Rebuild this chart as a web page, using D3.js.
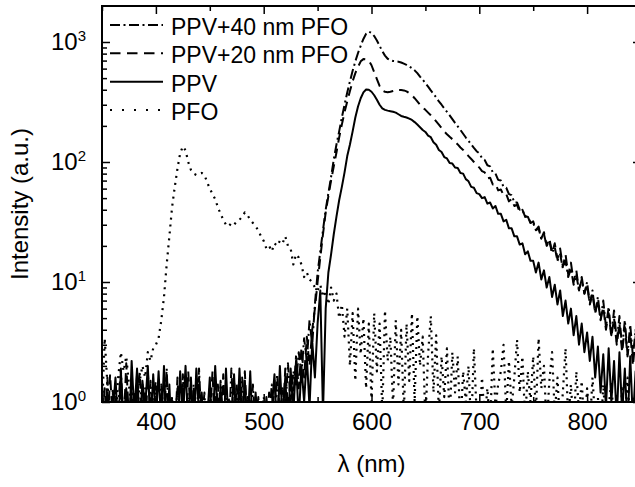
<!DOCTYPE html>
<html>
<head>
<meta charset="utf-8">
<script src="https://cdn.jsdelivr.net/npm/d3@7"></script>
<style>
  body { margin: 0; background: #fff; }
  svg { display: block; font-family: "Liberation Sans", Arial, sans-serif; }
</style>
</head>
<body>
<div id="chart"></div>
<script>
// wavelength grid (nm), one value every 2.5 nm from 350 to 850
const wavelengths = d3.range(350, 850.1, 2.5);

// PPV (solid)
const ppv = [
  1.4, 0.6, 1.2, 0.5, 0.8, 1.6, 0.6, 1.8, 0.7, 1.3, 0.5, 2.2, 0.8, 1.9, 0.6, 1.5, 0.9, 2.0, 0.6, 1.7,
  0.7, 1.8, 0.6, 2.0, 0.5, 1.4, 0.4, 0.9, 0.5, 1.8, 0.7, 2.0, 0.6, 1.6, 0.5, 1.9, 0.8, 1.2, 0.5, 0.7,
  1.6, 0.5, 2.0, 0.7, 1.3, 0.4, 1.9, 0.6, 0.8, 1.7, 0.5, 1.9, 0.7, 1.5, 0.6, 1.8, 0.5, 1.2, 0.6, 0.8,
  0.5, 1.1, 0.6, 0.9, 1.7, 0.5, 2.0, 0.7, 1.6, 0.6, 1.9, 0.8, 2.2, 0.7, 2.0, 1.0, 2.4, 0.9, 3.2, 1.6,
  4.5, 8.5, 0.8, 6, 12, 17, 25, 35, 48, 62, 82, 112, 140, 180, 235, 290, 340, 380, 402, 400,
  385, 360, 330, 300, 280, 272, 268, 265, 262, 258, 250, 242, 238, 235, 230, 224, 215, 205, 195, 185,
  178, 166, 161, 146, 139, 126, 121, 110, 107, 98, 97, 90, 89, 81, 80, 72, 69, 62, 61, 55,
  54, 50, 51, 45, 46, 41, 43, 37, 37, 32, 33, 28, 28, 24, 24, 20.5, 21, 17, 18, 15,
  15, 12, 14.5, 10.5, 12.5, 9, 11, 7.5, 9.5, 6.5, 8.5, 5.2, 7, 4.5, 6, 3.6, 5.2, 3.0, 4.5, 2.6,
  3.8, 2.2, 3.5, 1.6, 2.9, 1.2, 2.5, 0.9, 2.8, 1.0, 2.2, 0.7, 2.6, 0.8, 1.9, 0.6, 2.4, 0.7, 1.8, 0.8,
  1.5
];

// PPV+20 nm PFO (dashed)
const ppv20 = [
  0.6, 1.3, 0.5, 1.7, 0.7, 1.1, 0.5, 1.5, 0.6, 2.1, 0.7, 1.2, 0.5, 1.7, 0.6, 1.4, 0.5, 1.8, 0.7, 1.1,
  1.5, 0.6, 1.2, 0.5, 1.7, 0.6, 0.8, 0.5, 1.6, 0.6, 1.4, 0.5, 1.8, 0.7, 1.2, 0.6, 1.6, 0.5, 1.0, 0.6,
  0.7, 1.8, 0.5, 1.4, 0.6, 1.7, 0.5, 1.1, 0.6, 1.5, 0.7, 1.2, 0.5, 1.8, 0.6, 1.3, 0.5, 0.9, 0.6, 0.5,
  0.6, 0.5, 1.2, 0.6, 1.5, 0.8, 1.3, 0.6, 1.9, 0.9, 1.5, 1.1, 2.4, 1.3, 2.8, 1.6, 3.5, 2.0, 4.0, 6.0,
  10, 16, 25, 38, 52, 70, 92, 120, 160, 205, 260, 320, 390, 470, 550, 620, 690, 720, 715, 700,
  640, 560, 490, 430, 395, 385, 382, 385, 390, 395, 398, 398, 395, 388, 375, 360, 340, 320, 300, 285,
  272, 258, 245, 232, 218, 205, 192, 180, 170, 162, 155, 147, 140, 132, 126, 118, 112, 106, 100, 94,
  90, 84, 82, 73, 74, 65, 66, 58, 59, 53, 54, 47, 49, 43, 44, 38, 40, 35, 36, 31,
  32, 27, 29, 23, 26, 20, 23, 17.5, 21, 15.5, 19, 13.5, 17, 11.5, 14.5, 10, 12.5, 8.5, 11, 8,
  9.5, 6.5, 8, 5.5, 7, 4.8, 6.2, 4, 5.5, 3.5, 5, 3, 4.5, 2.6, 4.2, 2.4, 3.8, 2, 3.5, 2.2,
  3
];

// PPV+40 nm PFO (dash-dot)
const ppv40 = [
  1.0, 0.5, 1.6, 0.6, 1.3, 0.5, 0.9, 1.9, 0.6, 1.2, 0.5, 1.6, 0.6, 1.1, 1.8, 0.6, 1.3, 0.5, 1.5, 0.6,
  1.2, 0.5, 1.4, 0.7, 1.9, 0.5, 1.1, 0.6, 1.3, 0.5, 1.7, 0.6, 1.1, 0.5, 1.4, 0.6, 1.9, 0.6, 1.2, 0.5,
  1.3, 0.6, 1.1, 0.5, 1.5, 0.7, 1.3, 0.5, 1.9, 0.6, 1.4, 0.5, 1.6, 0.6, 1.1, 0.5, 1.4, 0.6, 1.1, 0.5,
  1.1, 0.6, 0.7, 1.4, 0.6, 1.7, 0.7, 1.3, 0.8, 2.1, 1.0, 1.8, 1.4, 2.6, 1.7, 3.4, 2.2, 4.8, 3.0, 6.5,
  12, 18, 27, 40, 55, 75, 105, 140, 180, 235, 300, 380, 470, 575, 690, 810, 930, 1060, 1170, 1220,
  1190, 1120, 1030, 930, 840, 770, 725, 705, 695, 690, 685, 675, 660, 645, 625, 605, 580, 550, 515, 485,
  455, 425, 395, 370, 345, 320, 300, 280, 262, 245, 228, 212, 198, 185, 172, 160, 150, 140, 131, 123,
  118, 108, 104, 94, 92, 82, 80, 71, 70, 62, 61, 54, 53, 46, 46, 40, 40, 35, 35, 31,
  31, 27, 28, 23, 25, 20, 22, 17.5, 19.5, 15, 17, 13, 15, 11, 13, 9.5, 11.5, 8.5, 10.5, 8,
  10, 6.5, 8.5, 5.5, 7.5, 4.8, 7, 4.2, 6.2, 3.6, 5.8, 3.2, 5.2, 2.8, 4.8, 2.5, 4.4, 2.4, 4.0, 2.2,
  3.5
];

// PFO (dotted)
const pfo = [
  0.8, 3.4, 1.4, 0.6, 1.2, 0.7, 1.6, 2.6, 1.8, 2.4, 1.4, 0.8, 1.2, 0.7, 1.5, 2.0, 1.6, 2.6, 2.2, 2.8,
  3.0, 3.4, 4.8, 7.5, 14, 24, 42, 62, 88, 118, 135, 125, 100, 86, 80, 78, 80, 81, 78, 68,
  60, 54, 49, 42, 37, 33, 30, 29, 31, 30, 32, 33, 35, 38, 36, 33, 31, 29, 27, 24,
  22, 19, 20, 18, 21, 20, 22, 21, 24, 20, 19, 14, 17, 16, 14, 11, 12, 10.5, 10, 9,
  8.5, 9.5, 7.5, 8.5, 6.5, 9, 7, 8, 5, 6.5, 3.5, 6, 2, 5.5, 1.5, 6, 2.5, 5, 1.3, 4.5,
  1.0, 5.5, 1.8, 4.5, 0.8, 5.8, 2.2, 3.5, 0.9, 4.8, 1.4, 4.0, 0.8, 4.5, 1.5, 5.5, 1.0, 5.2, 2.0, 3.5,
  0.7, 2.5, 5.2, 1.2, 3.6, 0.8, 2.4, 1.1, 2.8, 0.7, 2.6, 1.2, 2.4, 0.6, 1.8, 1.0, 2.0, 0.6, 2.8, 0.8,
  0.6, 1.6, 0.7, 1.3, 0.6, 2.8, 0.9, 1.4, 1.8, 3.0, 0.8, 2.2, 0.9, 1.6, 3.3, 1.2, 2.4, 0.7, 1.8, 1.0,
  2.4, 0.8, 3.4, 1.3, 2.0, 0.6, 1.5, 2.6, 0.8, 1.6, 0.6, 1.2, 2.8, 0.7, 1.4, 0.6, 1.8, 0.8, 1.5, 0.6,
  1.3, 0.6, 1.6, 0.7, 1.1, 0.5, 1.4, 0.6, 0.9, 1.5, 0.6, 1.2, 0.5, 1.3, 0.7, 1.6, 0.6, 1.1, 0.5, 1.2,
  0.8
];

const xMajor = [400, 500, 600, 700, 800];
const xMinor = [350, 450, 550, 650, 750, 850];
const yMajor = [1, 10, 100, 1000];
const yMinor = [2, 3, 4, 5, 6, 7, 8, 9, 20, 30, 40, 50, 60, 70, 80, 90,
                200, 300, 400, 500, 600, 700, 800, 900];

const series = [
  { nombre: "PPV+40 nm PFO", valores: ppv40, dash: "10,3.5,2,3.5", dashLeyenda: "10,3.5,2,3.5", grosor: 2 },
  { nombre: "PPV+20 nm PFO", valores: ppv20, dash: "10,6", dashLeyenda: "10.5,6.5", grosor: 2 },
  { nombre: "PPV", valores: ppv, dash: null, dashLeyenda: null, grosor: 2 },
  { nombre: "PFO", valores: pfo, dash: "2,5", dashLeyenda: "2,10", grosor: 2.2 }
];

const ancho = 635, alto = 487;
const izq = 102, der = 641, arriba = 6, abajo = 402;

const svg = d3.select("#chart").append("svg")
  .attr("width", ancho)
  .attr("height", alto);

const x = d3.scaleLinear().domain([350, 850]).range([izq, der]);
const y = d3.scaleLog().domain([1, 1995]).range([abajo, arriba]);

svg.append("clipPath").attr("id", "recorte")
  .append("rect")
  .attr("x", izq).attr("y", arriba)
  .attr("width", der - izq).attr("height", abajo - arriba);

// curvas
const linea = d3.line()
  .x((d, i) => x(wavelengths[i]))
  .y(d => y(d));

const curvas = svg.append("g").attr("clip-path", "url(#recorte)");
series.slice().reverse().forEach(s => {
  curvas.append("path")
    .attr("d", linea(s.valores))
    .attr("fill", "none")
    .attr("stroke", "#000")
    .attr("stroke-width", s.grosor)
    .attr("stroke-linejoin", "round")
    .attr("stroke-dasharray", s.dash);
});

// ejes con marcas hacia adentro
function estiloEje(g) {
  g.select(".domain").remove();
  g.selectAll(".tick line").attr("stroke", "#000").attr("stroke-width", 1.5);
}

svg.append("g").attr("transform", `translate(0,${abajo})`)
  .call(d3.axisBottom(x).tickValues(xMajor).tickSize(-8).tickPadding(11).tickFormat(d3.format("d")))
  .call(estiloEje)
  .call(g => g.selectAll("text").attr("font-size", 24).attr("fill", "#000")
    .attr("font-family", "Liberation Sans, Arial, sans-serif"));

svg.append("g").attr("transform", `translate(0,${abajo})`)
  .call(d3.axisBottom(x).tickValues(xMinor).tickSize(-5).tickFormat(""))
  .call(estiloEje);

svg.append("g").attr("transform", `translate(0,${arriba})`)
  .call(d3.axisTop(x).tickValues(xMajor).tickSize(-8).tickFormat(""))
  .call(estiloEje);

svg.append("g").attr("transform", `translate(0,${arriba})`)
  .call(d3.axisTop(x).tickValues(xMinor).tickSize(-5).tickFormat(""))
  .call(estiloEje);

svg.append("g").attr("transform", `translate(${izq},0)`)
  .call(d3.axisLeft(y).tickValues(yMajor).tickSize(-8).tickFormat(""))
  .call(estiloEje);

svg.append("g").attr("transform", `translate(${izq},0)`)
  .call(d3.axisLeft(y).tickValues(yMinor).tickSize(-5).tickFormat(""))
  .call(estiloEje);

svg.append("g").attr("transform", `translate(${der},0)`)
  .call(d3.axisRight(y).tickValues(yMajor).tickSize(-8).tickFormat(""))
  .call(estiloEje);

svg.append("g").attr("transform", `translate(${der},0)`)
  .call(d3.axisRight(y).tickValues(yMinor).tickSize(-5).tickFormat(""))
  .call(estiloEje);

// etiquetas del eje y: 10^n
yMajor.forEach(v => {
  const t = svg.append("text")
    .attr("x", 86)
    .attr("y", y(v) + 8)
    .attr("text-anchor", "end")
    .attr("font-size", 24)
    .attr("fill", "#000");
  t.append("tspan").text("10");
  t.append("tspan")
    .attr("font-size", 15)
    .attr("dy", -9)
    .text(Math.round(Math.log10(v)));
});

// marco
svg.append("rect")
  .attr("x", izq).attr("y", arriba)
  .attr("width", der - izq).attr("height", abajo - arriba)
  .attr("fill", "none")
  .attr("stroke", "#000")
  .attr("stroke-width", 2);

// titulos
svg.append("text")
  .attr("x", (izq + der) / 2)
  .attr("y", 472)
  .attr("text-anchor", "middle")
  .attr("font-size", 24)
  .text("λ (nm)");

svg.append("text")
  .attr("transform", `translate(28,${(arriba + abajo) / 2}) rotate(-90)`)
  .attr("text-anchor", "middle")
  .attr("font-size", 24)
  .text("Intensity (a.u.)");

// leyenda
const baseLeyenda = [35, 63.3, 91.7, 120];
series.forEach((s, i) => {
  svg.append("line")
    .attr("x1", 110).attr("x2", 163)
    .attr("y1", baseLeyenda[i] - 10).attr("y2", baseLeyenda[i] - 10)
    .attr("stroke", "#000")
    .attr("stroke-width", 2)
    .attr("stroke-dasharray", s.dashLeyenda);
  svg.append("text")
    .attr("x", 171)
    .attr("y", baseLeyenda[i])
    .attr("font-size", 23)
    .text(s.nombre);
});
</script>
</body>
</html>
